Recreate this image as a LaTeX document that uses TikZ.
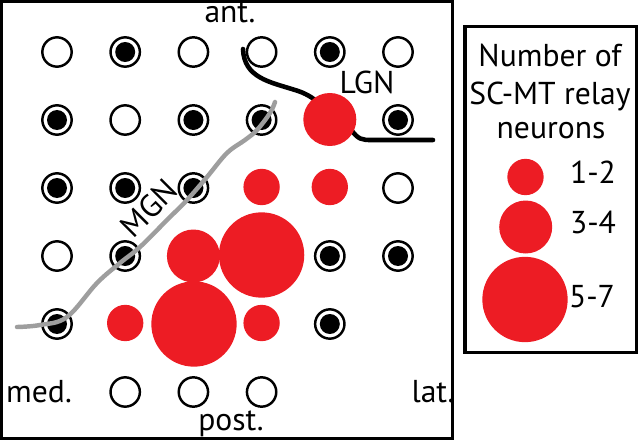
\documentclass[tikz,border=0pt]{standalone}
\usepackage{fontspec}
\newfontfamily\labfont{PT Sans}
\definecolor{dotred}{RGB}{237,28,36}
\definecolor{mgngray}{RGB}{158,158,158}
\begin{document}
\begin{tikzpicture}[x=0.3mm,y=-0.3mm,
  opendot/.style={circle,draw=black,line width=2.1pt,fill=white,minimum size=8.8mm,inner sep=0pt},
  ringdot/.style={opendot,path picture={\fill[black] (path picture bounding box.center) circle (3mm);}},
  redS/.style={circle,fill=dotred,minimum size=10.9mm,inner sep=0pt},
  redM/.style={circle,fill=dotred,minimum size=15.9mm,inner sep=0pt},
  redL/.style={circle,fill=dotred,minimum size=25.6mm,inner sep=0pt},
  lab/.style={font=\labfont\fontsize{27}{31}\selectfont,inner sep=0pt,anchor=base},
  frame/.style={draw=black,line width=2.6pt},
  lgnline/.style={draw=black,line width=3.9pt,line cap=round},
  mgnline/.style={draw=mgngray,line width=3.8pt,line cap=round}]
\useasboundingbox (0,0) rectangle (640,441);
% frames
\draw[frame] (1.5,1) rectangle (452.5,438.5);
\draw[frame] (465,26.5) rectangle (636.5,352.5);
% LGN line (under red)
\coordinate (l0) at (243,49);
\coordinate (l1) at (433,140);
\draw[lgnline] (l0) .. controls (244,78) and (270,82) .. (295,90)
  .. controls (305,93) and (312,97) .. (320,104) -- (350,128)
  .. controls (358,140) and (362,140) .. (372,140) -- (l1);
% row 1
\node[opendot] (c11) at (57,52) {};
\node[ringdot] (c12) at (125.2,52) {};
\node[opendot] (c13) at (193.4,52) {};
\node[opendot] (c14) at (261.6,52) {};
\node[ringdot] (c15) at (329.8,52) {};
\node[opendot] (c16) at (398,52) {};
% row 2
\node[ringdot] (c21) at (57,120) {};
\node[opendot] (c22) at (125.2,120) {};
\node[ringdot] (c23) at (193.4,120) {};
\node[ringdot] (c24) at (261.6,120) {};
\node[redM] (c25) at (329.8,119.5) {};
\node[ringdot] (c26) at (398,120) {};
% row 3
\node[ringdot] (c31) at (57,188) {};
\node[ringdot] (c32) at (125.2,188) {};
\node[ringdot] (c33) at (193.4,188) {};
\node[redS] (c34) at (261.6,187) {};
\node[redS] (c35) at (329.8,187) {};
\node[opendot] (c36) at (398,188) {};
% row 4
\node[opendot] (c41) at (57,256) {};
\node[ringdot] (c42) at (125.2,256) {};
\node[redM] (c43) at (193.4,256) {};
\node[redL] (c44) at (261.6,255) {};
\node[ringdot] (c45) at (329.8,256) {};
\node[ringdot] (c46) at (398,256) {};
% row 5
\node[ringdot] (c51) at (57,324) {};
\node[redS] (c52) at (125.2,323) {};
\node[redL] (c53) at (194,324) {};
\node[redS] (c54) at (261.6,323) {};
\node[ringdot] (c55) at (329.8,324) {};
% row 6
\node[opendot] (c62) at (125.2,392) {};
\node[opendot] (c63) at (193.4,392) {};
\node[opendot] (c64) at (261.6,392) {};
% MGN line
\coordinate (m0) at (17,327);
\coordinate (m1) at (275,102);
\draw[mgnline] plot[smooth,tension=0.6] coordinates {(17,327) (40,325) (67,317) (97,283) (120,263) (140,247) (167,220) (187,200) (207,177) (227,153) (245,140) (257,130) (270,113) (275,102)};
% labels
\node[lab] (ant) at (230,23) {ant.};
\node[lab] (post) at (231,430) {post.};
\node[lab] (med) at (39,402) {med.};
\node[lab] (lat) at (433,402) {lat.};
\node[lab] (lgn) at (367,94) {LGN};
\node[lab,anchor=center,rotate=45] (mgn) at (149,208) {MGN};
% legend
\node[lab] (t1) at (550,67) {Number of};
\node[lab] (t2) at (550,105) {SC-MT relay};
\node[lab] (t3) at (551,138) {neurons};
\node[redS] (g1) at (525.5,177) {};
\node[redM] (g2) at (525.7,227) {};
\node[redL] (g3) at (525,299.5) {};
\node[lab] (n1) at (593,183) {1-2};
\node[lab] (n2) at (593,233) {3-4};
\node[lab] (n3) at (592,307) {5-7};
\end{tikzpicture}
\end{document}
